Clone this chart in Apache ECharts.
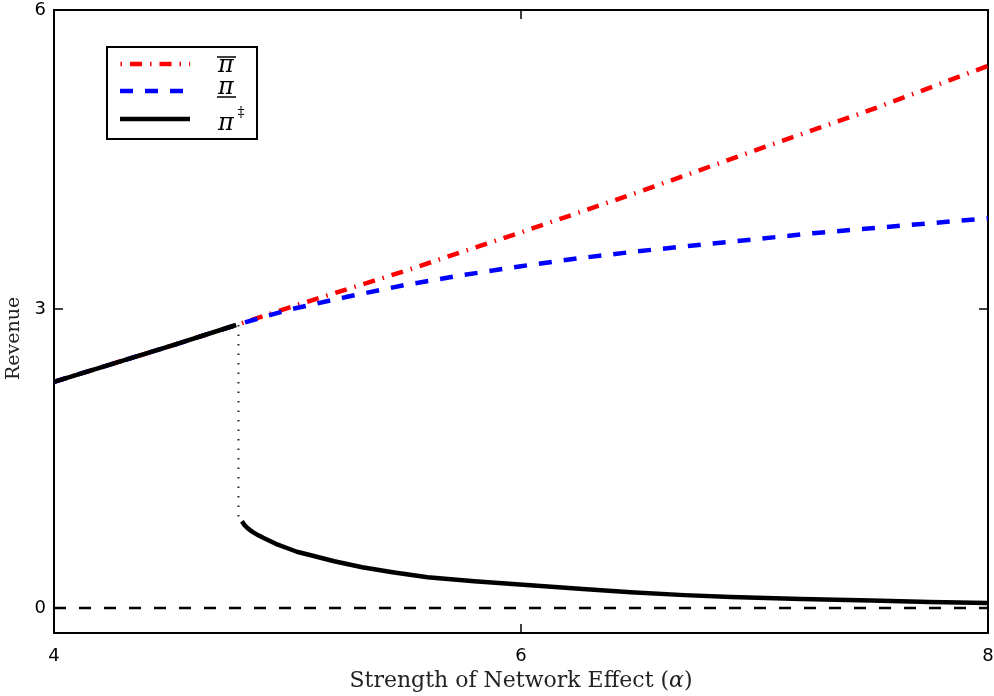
<!DOCTYPE html>
<html>
<head>
<meta charset="utf-8">
<script src="https://cdn.jsdelivr.net/npm/echarts@6/dist/echarts.min.js"></script>
<style>html,body{margin:0;padding:0;background:#fff}#c{width:994px;height:696px}</style>
</head>
<body>
<div id="c"></div>
<script>
// ---- data ----
const xUpper = [4, 4.5, 4.78, 5, 5.5, 6, 6.5, 7, 7.5, 8];
const piBar = [2.27, 2.63, 2.84, 3.01, 3.38, 3.77, 4.17, 4.59, 5.0, 5.44];
const xLower = [4, 4.5, 4.78, 5, 5.25, 5.5, 5.75, 6, 6.25, 6.5, 6.75, 7, 7.25, 7.5, 7.75, 8];
const piUnder = [2.27, 2.63, 2.84, 2.99, 3.12, 3.24, 3.34, 3.43, 3.51, 3.58, 3.64, 3.70, 3.76, 3.81, 3.86, 3.91];
const xDagA = [4, 4.5, 4.78];
const piDagA = [2.27, 2.63, 2.84];
const xDagB = [4.805, 4.815, 4.83, 4.85, 4.875, 4.9, 4.95, 5.0, 5.04, 5.1, 5.2, 5.32, 5.45, 5.6, 5.8, 6.04, 6.25, 6.47, 6.7, 6.9, 7.2, 7.5, 7.75, 8];
const piDagB = [0.87, 0.835, 0.80, 0.765, 0.73, 0.70, 0.645, 0.60, 0.565, 0.53, 0.47, 0.41, 0.36, 0.31, 0.27, 0.23, 0.195, 0.16, 0.13, 0.11, 0.09, 0.075, 0.06, 0.05];
const xJump = [4.79, 4.79];
const yJump = [2.84, 0.9];
const xZero = [4, 8];
const yZero = [0, 0];
const xTicks = [4, 6, 8];
const yTicks = [0, 3, 6];

const pairs = (xs, ys) => xs.map((x, i) => [x, ys[i]]);

const chart = echarts.init(document.getElementById('c'), null, {renderer: 'canvas'});
const tickFont = {fontFamily: 'DejaVu Sans', fontSize: 18, color: '#000'};
const axisLine = {show: true, onZero: false, lineStyle: {color: '#000', width: 2}};
const tickStyle = {show: true, inside: true, length: 9, lineStyle: {color: '#000', width: 1.5}};

chart.setOption({
  animation: false,
  backgroundColor: '#fff',
  grid: {left: 54, right: 6, top: 10, bottom: 63, containLabel: false, outerBoundsMode: 'none'},
  xAxis: [
    {type: 'value', min: 4, max: 8, position: 'bottom',
     axisLine: axisLine, splitLine: {show: false},
     axisTick: Object.assign({customValues: xTicks}, tickStyle),
     axisLabel: Object.assign({customValues: xTicks, margin: 14}, tickFont),
     name: 'Strength of Network Effect ({a|α})', nameLocation: 'middle', nameGap: 36,
     nameTextStyle: {fontFamily: 'DejaVu Serif', fontSize: 22, color: '#222',
       rich: {a: {fontFamily: 'DejaVu Serif', fontStyle: 'italic', fontSize: 22, color: '#222'}}}},
    {type: 'value', min: 4, max: 8, position: 'top',
     axisLine: axisLine, splitLine: {show: false},
     axisTick: Object.assign({customValues: xTicks}, tickStyle),
     axisLabel: {show: false}}
  ],
  yAxis: [
    {type: 'value', min: -0.25, max: 6, position: 'left',
     axisLine: axisLine, splitLine: {show: false},
     axisTick: Object.assign({customValues: yTicks}, tickStyle),
     axisLabel: Object.assign({customValues: yTicks, margin: 8}, tickFont),
     name: 'Revenue', nameLocation: 'middle', nameGap: 21, nameRotate: 90,
     nameTextStyle: {fontFamily: 'DejaVu Serif', fontSize: 19, color: '#222', padding: [0, 34, 0, 0]}},
    {type: 'value', min: -0.25, max: 6, position: 'right',
     axisLine: axisLine, splitLine: {show: false},
     axisTick: Object.assign({customValues: yTicks}, tickStyle),
     axisLabel: {show: false}}
  ],
  series: [
    {type: 'line', data: pairs(xZero, yZero), symbol: 'none',
     lineStyle: {color: '#000', width: 2.5, type: [12, 13]}, z: 1},
    {type: 'line', data: pairs(xUpper, piBar), symbol: 'none',
     lineStyle: {color: '#ff0000', width: 4.5, type: [12, 8, 1.5, 8], cap: 'butt'}, z: 2},
    {type: 'line', data: pairs(xLower, piUnder), symbol: 'none',
     lineStyle: {color: '#0000ff', width: 4.5, type: [13, 12], cap: 'butt'}, z: 3},
    {type: 'line', data: pairs(xJump, yJump), symbol: 'none',
     lineStyle: {color: '#222', width: 2, type: [1.5, 8]}, z: 3},
    {type: 'line', data: pairs(xDagA, piDagA), symbol: 'none',
     lineStyle: {color: '#000', width: 4.5}, z: 4},
    {type: 'line', data: pairs(xDagB, piDagB), symbol: 'none',
     lineStyle: {color: '#000', width: 4.5, join: 'round'}, z: 4}
  ],
  graphic: [
    {type: 'rect', shape: {x: 107, y: 47, width: 150, height: 92},
     style: {fill: '#fff', stroke: '#000', lineWidth: 2}, z: 100},
    {type: 'line', shape: {x1: 120, y1: 64, x2: 190, y2: 64},
     style: {stroke: '#ff0000', lineWidth: 4.5, lineDash: [12, 8, 1.5, 8], lineDashOffset: -10}, z: 101},
    {type: 'line', shape: {x1: 120, y1: 91, x2: 190, y2: 91},
     style: {stroke: '#0000ff', lineWidth: 4.5, lineDash: [13, 12]}, z: 101},
    {type: 'line', shape: {x1: 120, y1: 119, x2: 190, y2: 119},
     style: {stroke: '#000', lineWidth: 4.5}, z: 101},
    {type: 'text', x: 226, y: 66, style: {text: 'π', font: 'italic 24px "DejaVu Serif"', fill: '#000', align: 'center', verticalAlign: 'middle'}, z: 101},
    {type: 'line', shape: {x1: 217, y1: 57, x2: 236, y2: 57}, style: {stroke: '#000', lineWidth: 1.5}, z: 101},
    {type: 'text', x: 226, y: 88, style: {text: 'π', font: 'italic 24px "DejaVu Serif"', fill: '#000', align: 'center', verticalAlign: 'middle'}, z: 101},
    {type: 'line', shape: {x1: 217, y1: 97, x2: 236, y2: 97}, style: {stroke: '#000', lineWidth: 1.5}, z: 101},
    {type: 'text', x: 226, y: 124, style: {text: 'π', font: 'italic 24px "DejaVu Serif"', fill: '#000', align: 'center', verticalAlign: 'middle'}, z: 101},
    {type: 'text', x: 241, y: 113, style: {text: '‡', font: '14px "DejaVu Serif"', fill: '#000', align: 'center', verticalAlign: 'middle'}, z: 101}
  ]
});
</script>
</body>
</html>
